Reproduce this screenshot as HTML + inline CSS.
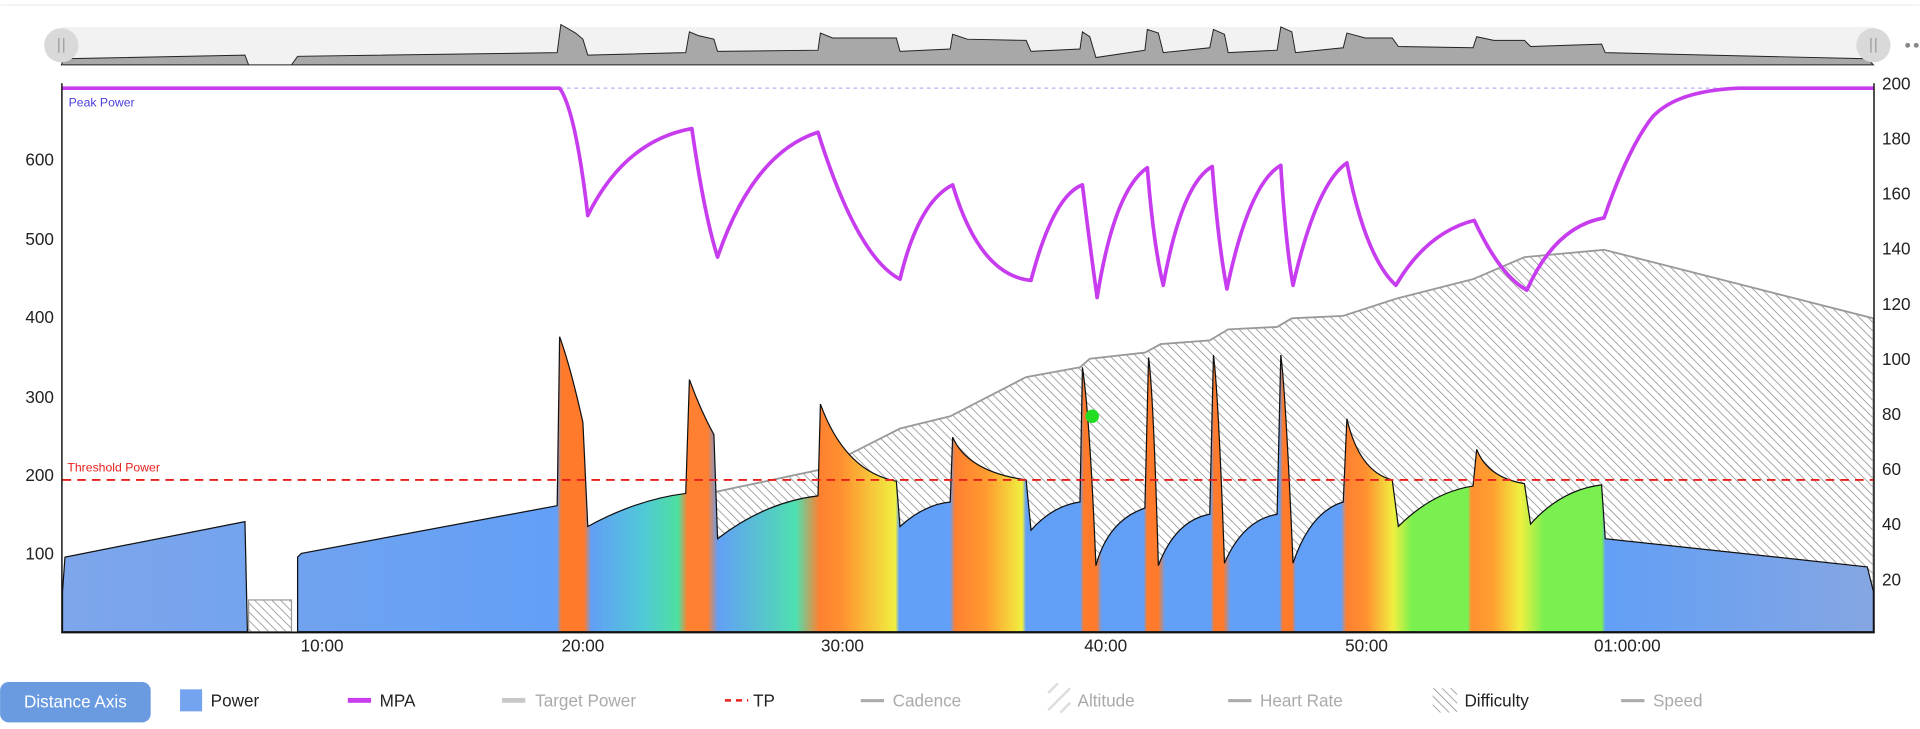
<!DOCTYPE html>
<html><head><meta charset="utf-8"><style>
html,body{margin:0;padding:0;background:#fff;width:1920px;height:729px;overflow:hidden}
svg{display:block}
text{font-family:"Liberation Sans",sans-serif}
</style></head><body>
<svg width="1920" height="729" viewBox="0 0 1568 595.4" xmlns="http://www.w3.org/2000/svg">
<defs>
<pattern id="hatch" width="5" height="5" patternUnits="userSpaceOnUse" patternTransform="rotate(-45)">
<rect width="5" height="5" fill="#fff"/><line x1="0" y1="0" x2="0" y2="5" stroke="#999" stroke-width="1.4"/>
</pattern>
<linearGradient id="pg" gradientUnits="userSpaceOnUse" x1="51" y1="0" x2="1530" y2="0">
<stop offset="0" stop-color="#7ea6ea"/>
<stop offset="0.273" stop-color="#629ff6"/>
<stop offset="0.2755" stop-color="#ff7a2a"/>
<stop offset="0.288" stop-color="#ff7a2a"/>
<stop offset="0.292" stop-color="#629ff6"/>
<stop offset="0.32" stop-color="#50c8d8"/>
<stop offset="0.34" stop-color="#4ee0a0"/>
<stop offset="0.345" stop-color="#ff8030"/>
<stop offset="0.356" stop-color="#ff8030"/>
<stop offset="0.362" stop-color="#629ff6"/>
<stop offset="0.405" stop-color="#4ee0b0"/>
<stop offset="0.418" stop-color="#ff8030"/>
<stop offset="0.43" stop-color="#ff9030"/>
<stop offset="0.46" stop-color="#f0f040"/>
<stop offset="0.462" stop-color="#629ff6"/>
<stop offset="0.49" stop-color="#629ff6"/>
<stop offset="0.493" stop-color="#ff8030"/>
<stop offset="0.51" stop-color="#ff9a30"/>
<stop offset="0.53" stop-color="#f0f040"/>
<stop offset="0.532" stop-color="#629ff6"/>
<stop offset="0.562" stop-color="#629ff6"/>
<stop offset="0.564" stop-color="#ff7a2a"/>
<stop offset="0.571" stop-color="#ff7a2a"/>
<stop offset="0.574" stop-color="#629ff6"/>
<stop offset="0.597" stop-color="#629ff6"/>
<stop offset="0.599" stop-color="#ff7a2a"/>
<stop offset="0.605" stop-color="#ff7a2a"/>
<stop offset="0.609" stop-color="#629ff6"/>
<stop offset="0.634" stop-color="#629ff6"/>
<stop offset="0.636" stop-color="#ff7a2a"/>
<stop offset="0.641" stop-color="#ff7a2a"/>
<stop offset="0.645" stop-color="#629ff6"/>
<stop offset="0.672" stop-color="#629ff6"/>
<stop offset="0.674" stop-color="#ff7a2a"/>
<stop offset="0.679" stop-color="#ff7a2a"/>
<stop offset="0.681" stop-color="#629ff6"/>
<stop offset="0.706" stop-color="#629ff6"/>
<stop offset="0.709" stop-color="#ff8030"/>
<stop offset="0.72" stop-color="#ff9030"/>
<stop offset="0.735" stop-color="#f0f040"/>
<stop offset="0.745" stop-color="#7af050"/>
<stop offset="0.776" stop-color="#7af050"/>
<stop offset="0.778" stop-color="#ff9030"/>
<stop offset="0.79" stop-color="#ffa030"/>
<stop offset="0.805" stop-color="#f0f040"/>
<stop offset="0.818" stop-color="#7af050"/>
<stop offset="0.850" stop-color="#7af050"/>
<stop offset="0.852" stop-color="#629ff6"/>
<stop offset="1" stop-color="#85a6e2"/>
</linearGradient>
</defs>
<line x1="0" y1="4" x2="1568" y2="4" stroke="#eee"/>
<!-- navigator -->
<rect x="50" y="22" width="1480" height="31" fill="#f2f2f2"/>
<path d="M50,53 L52,48 L200,45 L203,53 L238,53 L243,46 L455,43 L458,20 L470,27 L476,32 L480,45 L560,43 L563,26 L570,29 L583,32 L586,42 L668,41 L670,27 L680,31 L732,31 L735,42 L776,40 L778,28 L790,32 L838,33 L842,42 L882,40 L884,26 L890,30 L895,47 L935,41 L937,24 L946,27 L950,43 L988,39 L991,24 L1000,28 L1003,43 L1043,41 L1046,22 L1055,26 L1058,43 L1097,39 L1100,27 L1115,31 L1137,31 L1142,38 L1203,39 L1206,30 L1220,33 L1245,33 L1250,38 L1308,36 L1311,43 L1525,48 L1530,53 Z" fill="#a8a8a8" stroke="#222" stroke-width="0.8"/>
<circle cx="50" cy="37" r="14" fill="#d9d9d9"/><line x1="48" y1="31" x2="48" y2="43" stroke="#999"/><line x1="52" y1="31" x2="52" y2="43" stroke="#999"/>
<circle cx="1530" cy="37" r="14" fill="#d9d9d9"/><line x1="1528" y1="31" x2="1528" y2="43" stroke="#999"/><line x1="1532" y1="31" x2="1532" y2="43" stroke="#999"/>
<circle cx="1558" cy="37" r="2" fill="#888"/><circle cx="1565" cy="37" r="2" fill="#888"/>
<!-- difficulty -->
<path d="M575,516 L575,410 L583,402 L668,384 L735,350 L776,340 L838,308 L882,300 L890,293 L935,288 L948,281 L988,278 L1003,269 L1043,267 L1055,260 L1097,258 L1140,244 L1203,228 L1245,210 L1310,204 L1530,260 L1530,516 Z" fill="url(#hatch)" stroke="#999" stroke-width="1.5"/>
<rect x="203" y="490" width="35" height="26" fill="url(#hatch)" stroke="#999"/>
<!-- power -->
<path d="M51,516 L51,483 L53,455 L200,426 L202,516 Z" fill="url(#pg)" stroke="#111" stroke-width="1"/>
<path d="M243,516 L243,455 L246,452 L455,413 L457,275 Q466,300 476,345 L480,430 Q520,408 560,403 L563,310 Q572,335 583,355 L586,440 Q625,410 668,405 L670,330 Q690,385 732,393 L735,430 Q755,412 776,410 L778,357 Q790,385 838,392 L842,433 Q860,413 882,410 L884,300 Q890,340 895,462 Q905,425 935,415 L938,292 Q942,320 946,462 Q960,425 988,420 L991,290 Q995,320 1000,460 Q1015,425 1043,420 L1046,290 Q1050,320 1056,460 Q1070,418 1097,410 L1100,342 Q1110,385 1137,392 L1142,430 Q1170,402 1203,397 L1206,367 Q1215,390 1245,395 L1250,428 Q1275,400 1308,396 L1311,440 L1525,463 L1530,483 L1530,516 Z" fill="url(#pg)" stroke="#111" stroke-width="1"/>
<!-- threshold -->
<line x1="51" y1="392" x2="1530" y2="392" stroke="#e8201c" stroke-width="1.5" stroke-dasharray="7,5"/>
<text x="55" y="385" font-size="10" fill="#e8201c">Threshold Power</text>
<!-- peak -->
<line x1="457" y1="72" x2="1530" y2="72" stroke="#b8b0f0" stroke-width="1" stroke-dasharray="3,3"/>
<text x="56" y="87" font-size="10" fill="#4a3fe0">Peak Power</text>
<!-- MPA -->
<path d="M51,72 L457,72 Q470,90 480,176 Q510,115 565,105 Q575,175 586,210 Q615,125 668,108 Q700,210 735,228 Q750,165 778,151 Q800,225 842,229 Q860,160 884,151 Q890,200 896,243 Q910,155 937,137 Q942,200 950,233 Q965,150 990,136 Q995,200 1002,236 Q1020,150 1046,135 Q1050,200 1056,233 Q1075,150 1100,133 Q1115,210 1140,233 Q1165,190 1204,180 Q1225,225 1247,237 Q1270,185 1310,178 Q1330,120 1350,95 Q1370,74 1420,72 L1530,72" fill="none" stroke="#c83cf0" stroke-width="3" stroke-linejoin="round"/>
<circle cx="892" cy="340" r="5.5" fill="#22dd22"/>
<!-- axes -->
<line x1="50.5" y1="68" x2="50.5" y2="517" stroke="#111" stroke-width="1.2"/>
<line x1="1530.5" y1="68" x2="1530.5" y2="517" stroke="#111" stroke-width="1.2"/>
<line x1="50" y1="516.5" x2="1531" y2="516.5" stroke="#111" stroke-width="1.5"/>
<g font-size="14" fill="#222" text-anchor="end">
<text x="44" y="135">600</text><text x="44" y="200">500</text><text x="44" y="264">400</text><text x="44" y="329">300</text><text x="44" y="393">200</text><text x="44" y="457">100</text>
</g>
<g font-size="14" fill="#222" text-anchor="start">
<text x="1537" y="73">200</text><text x="1537" y="118">180</text><text x="1537" y="163">160</text><text x="1537" y="208">140</text><text x="1537" y="253">120</text><text x="1537" y="298">100</text><text x="1537" y="343">80</text><text x="1537" y="388">60</text><text x="1537" y="433">40</text><text x="1537" y="478">20</text>
</g>
<g font-size="14" fill="#222" text-anchor="middle">
<text x="263" y="532">10:00</text><text x="476" y="532">20:00</text><text x="688" y="532">30:00</text><text x="903" y="532">40:00</text><text x="1116" y="532">50:00</text><text x="1329" y="532">01:00:00</text>
</g>
<!-- legend -->
<rect x="0" y="557" width="123" height="33" rx="7" fill="#6a9be0"/>
<text x="61.5" y="578" font-size="14" fill="#fff" text-anchor="middle">Distance Axis</text>
<g font-size="14">
<rect x="147" y="563" width="18" height="18" fill="#74a3ef"/><text x="172" y="577" fill="#222">Power</text>
<rect x="284" y="570" width="19" height="4" fill="#c83cf0"/><text x="310" y="577" fill="#222">MPA</text>
<rect x="410" y="570" width="19" height="4" fill="#c8c8c8"/><text x="437" y="577" fill="#aaa">Target Power</text>
<line x1="592" y1="572" x2="611" y2="572" stroke="#e8201c" stroke-width="2" stroke-dasharray="5,4"/><text x="615" y="577" fill="#222">TP</text>
<rect x="703" y="571" width="19" height="2.5" fill="#aaa"/><text x="729" y="577" fill="#aaa">Cadence</text>
<path d="M856,566 L864,558 M856,580 L874,562 M866,582 L874,574" stroke="#ddd" stroke-width="2"/><text x="880" y="577" fill="#aaa">Altitude</text>
<rect x="1003" y="571" width="19" height="2.5" fill="#aaa"/><text x="1029" y="577" fill="#aaa">Heart Rate</text>
<rect x="1170" y="562" width="20" height="20" fill="url(#hatch)"/><text x="1196" y="577" fill="#222">Difficulty</text>
<rect x="1324" y="571" width="19" height="2.5" fill="#aaa"/><text x="1350" y="577" fill="#aaa">Speed</text>
</g>
</svg>
</body></html>
